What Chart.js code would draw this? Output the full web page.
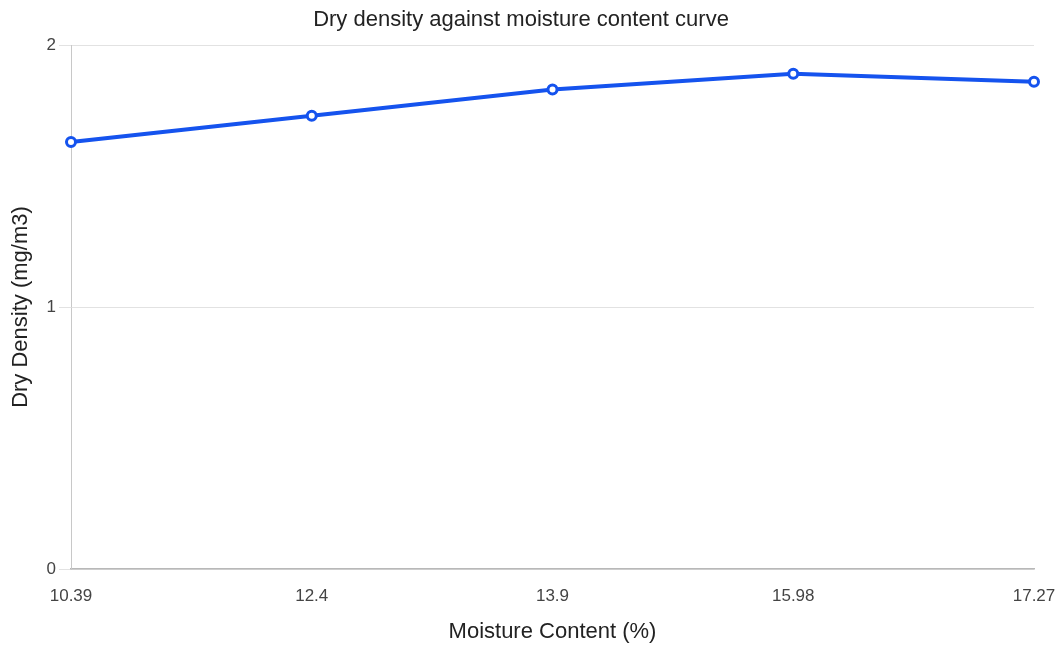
<!DOCTYPE html>
<html>
<head>
<meta charset="utf-8">
<script src="https://cdn.jsdelivr.net/npm/chart.js@4.4.0/dist/chart.umd.min.js"></script>
<style>
  html, body { margin: 0; padding: 0; background: #ffffff; }
  #wrap { width: 1063px; height: 645px; position: relative; }
</style>
</head>
<body>
<div id="wrap"><canvas id="c" width="1063" height="645"></canvas></div>
<script>
const categories = ['10.39', '12.4', '13.9', '15.98', '17.27'];
const dryDensity = [1.63, 1.73, 1.83, 1.89, 1.86];
const yTicks = [0, 1, 2];

const chartTitle = 'Dry density against moisture content curve';
const xTitle = 'Moisture Content (%)';
const yTitle = 'Dry Density (mg/m3)';

const FONT = 'Liberation Sans, Arial, sans-serif';

new Chart(document.getElementById('c'), {
  type: 'line',
  data: {
    labels: categories,
    datasets: [{
      label: 'Dry Density',
      data: dryDensity,
      borderColor: '#1553ee',
      backgroundColor: '#ffffff',
      borderWidth: 4,
      pointRadius: 4.5,
      pointBorderWidth: 3,
      pointBackgroundColor: '#ffffff',
      pointBorderColor: '#1553ee',
      tension: 0
    }]
  },
  options: {
    responsive: false,
    animation: false,
    devicePixelRatio: 1,
    layout: { padding: { left: 8, right: 29, top: 0, bottom: 0 } },
    plugins: {
      legend: { display: false },
      tooltip: { enabled: false },
      title: {
        display: true,
        text: chartTitle,
        color: '#222222',
        font: { family: FONT, size: 22, weight: 'normal' },
        padding: { top: 7, bottom: 11.6 }
      }
    },
    scales: {
      x: {
        type: 'category',
        offset: false,
        grid: { display: false, drawTicks: false },
        border: { display: true, color: '#b8b8b8', width: 1.5 },
        ticks: {
          color: '#444444',
          font: { family: FONT, size: 17 },
          padding: 17,
          maxRotation: 0,
          autoSkip: false
        },
        title: {
          display: true,
          text: xTitle,
          color: '#222222',
          font: { family: FONT, size: 22 },
          padding: { top: 10, bottom: 0 }
        },
        afterFit: s => { s.height = 76; s.paddingRight = 0; s.paddingLeft = 0; }
      },
      y: {
        min: 0,
        max: 2,
        afterBuildTicks: s => { s.ticks = yTicks.map(v => ({ value: v })); },
        grid: { color: '#e2e2e2', tickLength: 12, drawTicks: true, tickColor: '#e2e2e2' },
        border: { display: true, color: '#c8c8c8', width: 1 },
        ticks: {
          color: '#444444',
          font: { family: FONT, size: 17 },
          padding: 3
        },
        title: {
          display: true,
          text: yTitle,
          color: '#222222',
          font: { family: FONT, size: 22 },
          padding: { top: 0, bottom: 10 }
        },
        afterFit: s => { s.width = 63; s.paddingTop = 0; s.paddingBottom = 0; }
      }
    }
  }
});
</script>
</body>
</html>
